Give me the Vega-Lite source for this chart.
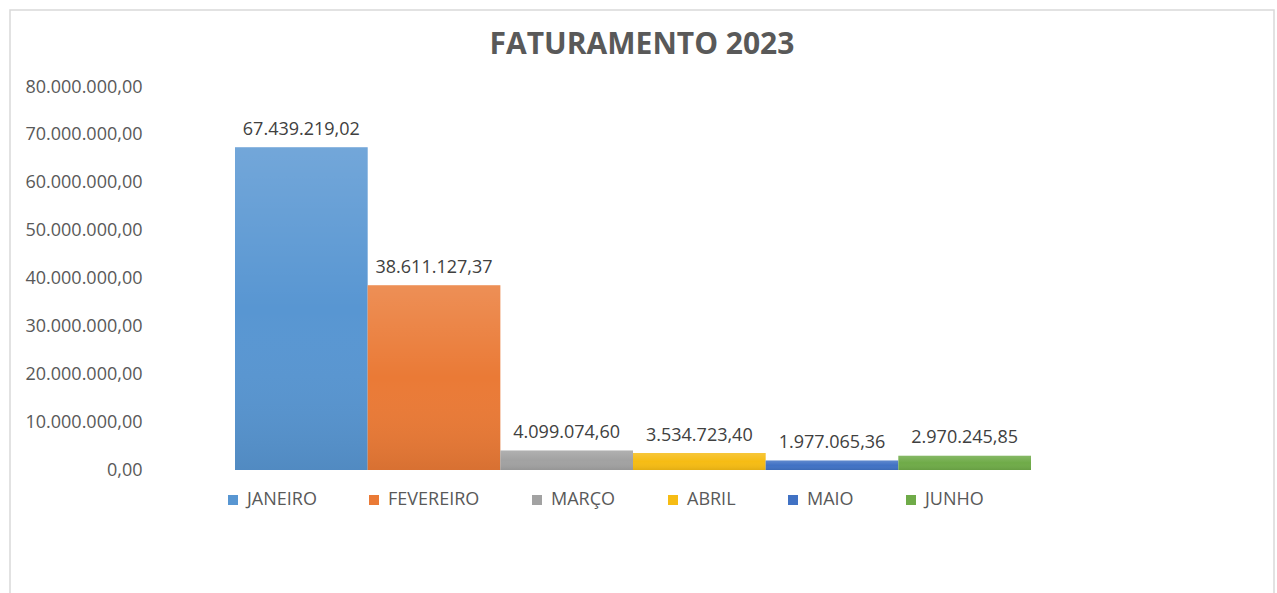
{
  "$schema": "https://vega.github.io/schema/vega-lite/v6.json",
  "width": 1264,
  "height": 600,
  "autosize": {"type": "none"},
  "padding": {"left": 10, "top": 10, "right": 3, "bottom": 0},
  "background": "white",
  "config": {
    "locale": {"number": {"decimal": ",", "thousands": ".", "grouping": [3], "currency": ["R$ ", ""]}},
    "view": {"stroke": "#d9d9d9", "strokeWidth": 1.5},
    "font": "Open Sans"
  },
  "title": {
    "text": "FATURAMENTO 2023",
    "fontSize": 30,
    "fontWeight": "bold",
    "color": "#595959",
    "font": "Open Sans",
    "anchor": "middle",
    "frame": "group",
    "offset": -45,
    "dy": 29,
    "baseline": "alphabetic"
  },
  "data": {
    "values": [
      {"mes": "JANEIRO", "valor": 67439219.02},
      {"mes": "FEVEREIRO", "valor": 38611127.37},
      {"mes": "MARÇO", "valor": 4099074.60},
      {"mes": "ABRIL", "valor": 3534723.40},
      {"mes": "MAIO", "valor": 1977065.36},
      {"mes": "JUNHO", "valor": 2970245.85}
    ]
  },
  "encoding": {
    "x": {
      "field": "mes", "type": "nominal", "sort": null,
      "scale": {"range": [225, 1021], "paddingInner": 0, "paddingOuter": 0},
      "axis": null
    },
    "y": {
      "field": "valor", "type": "quantitative",
      "scale": {"domain": [0, 80000000], "range": [460, 77], "nice": false, "zero": true},
      "axis": {
        "title": null,
        "values": [0, 10000000, 20000000, 30000000, 40000000, 50000000, 60000000, 70000000, 80000000],
        "format": ",.2f",
        "grid": false,
        "domain": false,
        "ticks": false,
        "offset": -140,
        "labelPadding": 8,
        "labelFontSize": 18,
        "labelColor": "#595959",
        "labelFont": "Open Sans"
      }
    }
  },
  "layer": [
    {
      "mark": {"type": "bar", "strokeWidth": 0},
      "encoding": {
        "color": {
          "field": "mes", "type": "nominal", "sort": null,
          "scale": {
            "domain": ["JANEIRO", "FEVEREIRO", "MARÇO", "ABRIL", "MAIO", "JUNHO"],
            "range": ["#5896d2", "#ea7a36", "#a2a2a2", "#f6bc14", "#4172c4", "#6fab48"]
          },
          "legend": {
            "title": null,
            "orient": "none",
            "legendX": 214,
            "legendY": 481,
            "direction": "horizontal",
            "columns": 6,
            "gridAlign": "each",
            "columnPadding": 48,
            "symbolType": "square",
            "symbolSize": 100,
            "symbolStrokeWidth": 0,
            "symbolOpacity": 1,
            "labelOffset": 5,
            "labelFontSize": 18,
            "labelColor": "#595959",
            "labelFont": "Open Sans"
          }
        }
      }
    },
    {
      "mark": {
        "type": "bar",
        "strokeWidth": 0,
        "color": {
          "gradient": "linear", "x1": 0, "y1": 0, "x2": 0, "y2": 1,
          "stops": [
            {"offset": 0, "color": "rgba(255,255,255,0.16)"},
            {"offset": 0.5, "color": "rgba(255,255,255,0)"},
            {"offset": 1, "color": "rgba(0,0,0,0.08)"}
          ]
        }
      },
      "encoding": {}
    },
    {
      "mark": {"type": "text", "baseline": "alphabetic", "dy": -12.5, "fontSize": 18, "color": "#404040", "font": "Open Sans"},
      "encoding": {
        "text": {"field": "valor", "type": "quantitative", "format": ",.2f"}
      }
    }
  ]
}
